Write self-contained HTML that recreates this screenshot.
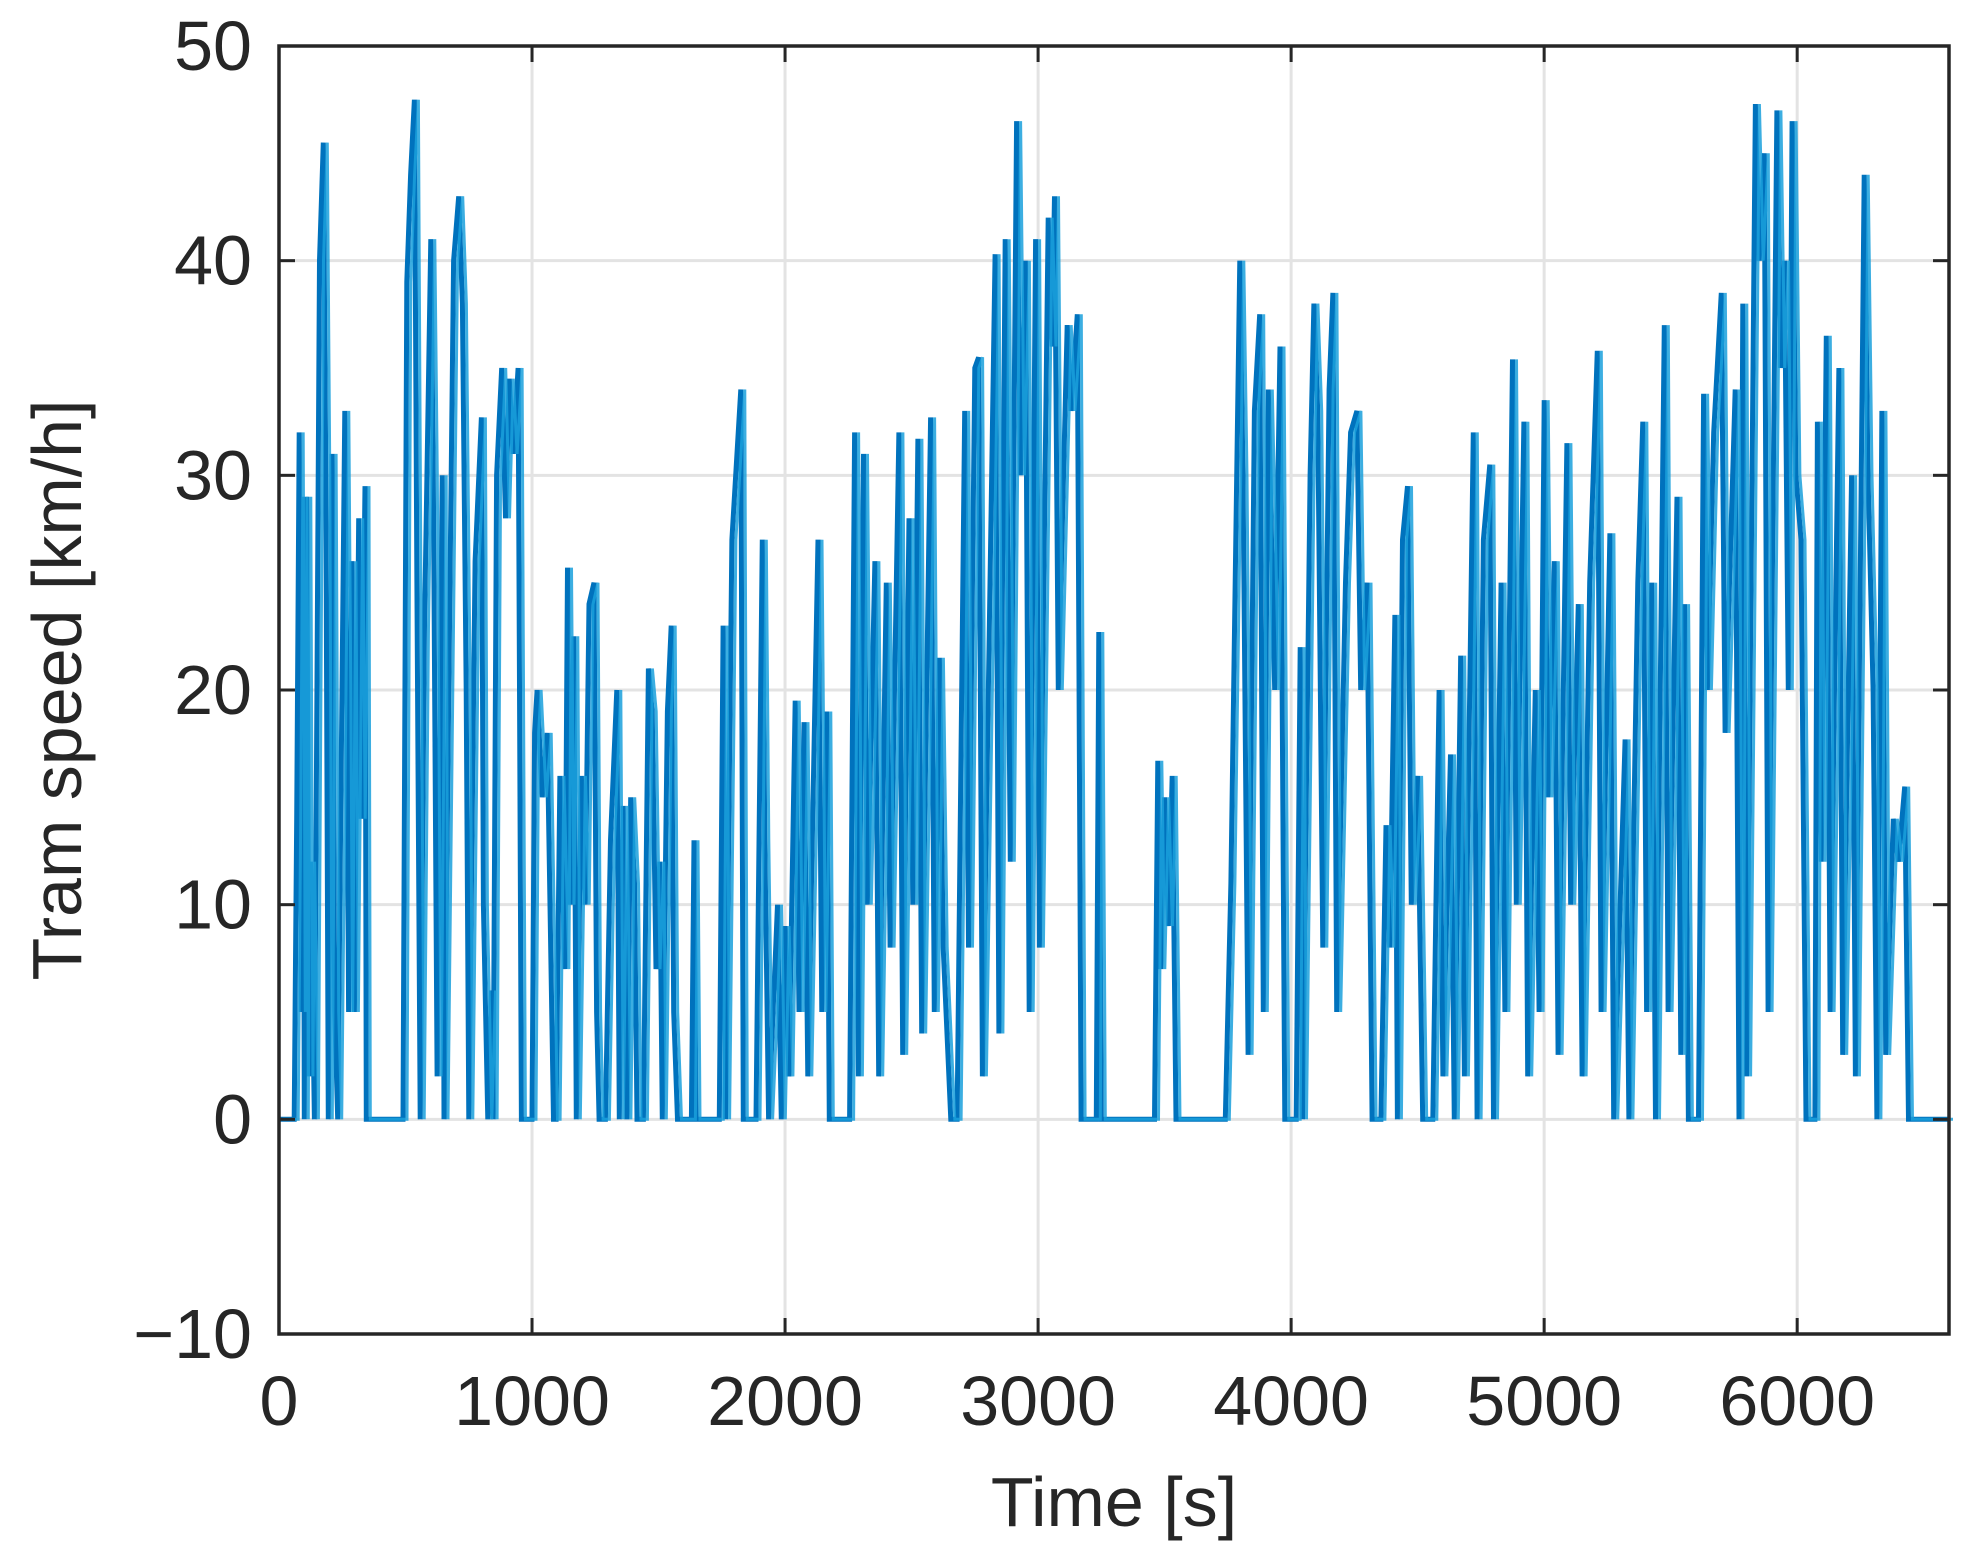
<!DOCTYPE html>
<html><head><meta charset="utf-8"><style>
html,body{margin:0;padding:0;background:#fff;}
svg{display:block;}
text{font-family:"Liberation Sans",sans-serif;fill:#262626;}
</style></head>
<body>
<svg id="chart" width="1979" height="1565" viewBox="0 0 1979 1565" xmlns="http://www.w3.org/2000/svg">
<rect x="0" y="0" width="1979" height="1565" fill="#fff"/>
<g id="grid"></g>
<g id="series"></g>
<g id="axes"></g>
<text x="57" y="690" font-size="70" text-anchor="middle" dominant-baseline="central" transform="rotate(-90 57 690)">Tram speed [km/h]</text>
<text x="1114" y="1502" font-size="70" text-anchor="middle" dominant-baseline="central">Time [s]</text>
</svg>
<script>
const xTicks = [0,1000,2000,3000,4000,5000,6000];
const yTicks = [-10,0,10,20,30,40,50];
const xTickLabels = ["0","1000","2000","3000","4000","5000","6000"];
const yTickLabels = ["\u221210","0","10","20","30","40","50"];
const times = [0,60,70,80,88,95,100,110,118,125,140,160,175,185,195,210,220,232,260,268,275,288,298,315,325,340,345,490,505,520,535,545,558,575,600,610,625,645,652,690,710,725,740,750,775,800,808,825,840,846,860,880,895,910,925,945,958,1000,1010,1020,1040,1060,1085,1095,1110,1130,1140,1150,1165,1175,1195,1210,1225,1245,1255,1265,1290,1310,1335,1345,1360,1375,1390,1405,1415,1440,1460,1475,1490,1505,1515,1535,1550,1560,1575,1630,1640,1648,1740,1755,1765,1790,1805,1825,1835,1885,1910,1920,1935,1970,1985,2000,2015,2040,2055,2075,2090,2130,2145,2165,2175,2255,2275,2290,2310,2325,2355,2370,2400,2415,2450,2465,2490,2505,2525,2540,2575,2590,2610,2625,2655,2680,2710,2725,2750,2765,2780,2830,2845,2870,2890,2915,2930,2950,2965,2990,3005,3040,3055,3065,3080,3115,3130,3155,3170,3230,3240,3250,3460,3473,3485,3500,3515,3530,3545,3740,3762,3797,3810,3830,3855,3876,3890,3910,3935,3956,3975,4020,4036,4045,4075,4090,4105,4125,4150,4165,4180,4215,4235,4260,4275,4300,4320,4355,4375,4390,4410,4420,4440,4460,4475,4500,4520,4560,4585,4600,4630,4645,4670,4685,4720,4735,4760,4785,4800,4830,4845,4875,4890,4920,4935,4965,4980,5000,5015,5040,5055,5090,5105,5135,5150,5180,5210,5225,5260,5275,5320,5335,5370,5390,5405,5425,5440,5475,5490,5525,5540,5555,5570,5610,5630,5645,5670,5700,5715,5755,5770,5785,5800,5835,5850,5870,5885,5920,5935,5950,5965,5980,5995,6015,6035,6070,6080,6095,6115,6130,6165,6180,6215,6230,6265,6280,6300,6315,6335,6350,6380,6400,6425,6440,6600];
const speeds = [0,0,14,32,5,29,0,29,2,12,0,40,45.5,30,0,31,5,0,33,20,5,26,5,28,14,29.5,0,0,39,44,47.5,25,0,23,41,30,2,30,0,40,43,38,20,0,26,32.7,10,0,6,0,30,35,28,34.5,31,35,0,0,18,20,15,18,0,0,16,7,25.7,10,22.5,0,16,10,24,25,5,0,0,13,20,0,14.6,0,15,11,0,0,21,19,7,12,0,19,23,5,0,0,13,0,0,23,0,27,30,34,0,0,27,13,0,10,0,9,2,19.5,5,18.5,2,27,5,19,0,0,32,2,31,10,26,2,25,8,32,3,28,10,31.7,4,32.7,5,21.5,8,0,0,33,8,35,35.5,2,40.3,4,41,12,46.5,30,40,5,41,8,42,36,43,20,37,33,37.5,0,0,22.7,0,0,16.7,7,15,9,16,0,0,11,40,30,3,33,37.5,5,34,20,36,0,0,22,0,30,38,33,8,34,38.5,5,25,32,33,20,25,0,0,13.7,8,23.5,0,27,29.5,10,16,0,0,20,2,17,0,21.6,2,32,0,27,30.5,0,25,5,35.4,10,32.5,2,20,5,33.5,15,26,3,31.5,10,24,2,25,35.8,5,27.3,0,17.7,0,25,32.5,5,25,0,37,5,29,3,24,0,0,33.8,20,32,38.5,18,34,0,38,2,47.3,40,45,5,47,35,40,20,46.5,30,27,0,0,32.5,12,36.5,5,35,3,30,2,44,30,20,0,33,3,14,12,15.5,0,0];

const L=279, T=46, W=1670, H=1288;
const xMin=0, xMax=6600, yMin=-10, yMax=50;
function xs(v){return L+(v-xMin)/(xMax-xMin)*W;}
function ys(v){return T+(yMax-v)/(yMax-yMin)*H;}
const NS="http://www.w3.org/2000/svg";
function mk(tag,attrs,parent){const e=document.createElementNS(NS,tag);for(const k in attrs)e.setAttribute(k,attrs[k]);parent.appendChild(e);return e;}
const grid=document.getElementById('grid'), axes=document.getElementById('axes'), series=document.getElementById('series');
xTicks.forEach((t,i)=>{
  const g=mk('line',{x1:xs(t),x2:xs(t),y1:T,y2:T+H,stroke:'#e3e3e3','stroke-width':3},grid);
  
  
  const tk=mk('line',{x1:xs(t),x2:xs(t),y1:T+H,y2:T+H-16,stroke:'#262626','stroke-width':3},axes);
  
  
  const tk2=mk('line',{x1:xs(t),x2:xs(t),y1:T,y2:T+16,stroke:'#262626','stroke-width':3},axes);
  
  
  const lb=mk('text',{x:xs(t),y:1401,'font-size':70,'text-anchor':'middle','dominant-baseline':'central'},axes);
  lb.textContent=xTickLabels[i];
  
  
});
yTicks.forEach((t,i)=>{
  const g=mk('line',{x1:L,x2:L+W,y1:ys(t),y2:ys(t),stroke:'#e3e3e3','stroke-width':3},grid);
  
  
  const tk=mk('line',{x1:L,x2:L+16,y1:ys(t),y2:ys(t),stroke:'#262626','stroke-width':3},axes);
  
  
  const tk2=mk('line',{x1:L+W,x2:L+W-16,y1:ys(t),y2:ys(t),stroke:'#262626','stroke-width':3},axes);
  
  
  const lb=mk('text',{x:252,y:ys(t),'font-size':70,'text-anchor':'end','dominant-baseline':'central'},axes);
  lb.textContent=yTickLabels[i];
  
  
});
const box=mk('rect',{x:L,y:T,width:W,height:H,fill:'none',stroke:'#262626','stroke-width':3.5},axes);


let d='';
for(let i=0;i<times.length;i++){d+=(i?'L':'M')+xs(times[i]).toFixed(1)+' '+ys(speeds[i]).toFixed(1);}
const p1=mk('path',{d:d,fill:'none',stroke:'#0072BD','stroke-width':5,'stroke-linejoin':'miter'},series);


const p2=mk('path',{d:d,fill:'none',stroke:'#1aa0dc','stroke-width':3,'stroke-opacity':0.85,transform:'translate(4,0)'},series);


</script>
</body></html>
